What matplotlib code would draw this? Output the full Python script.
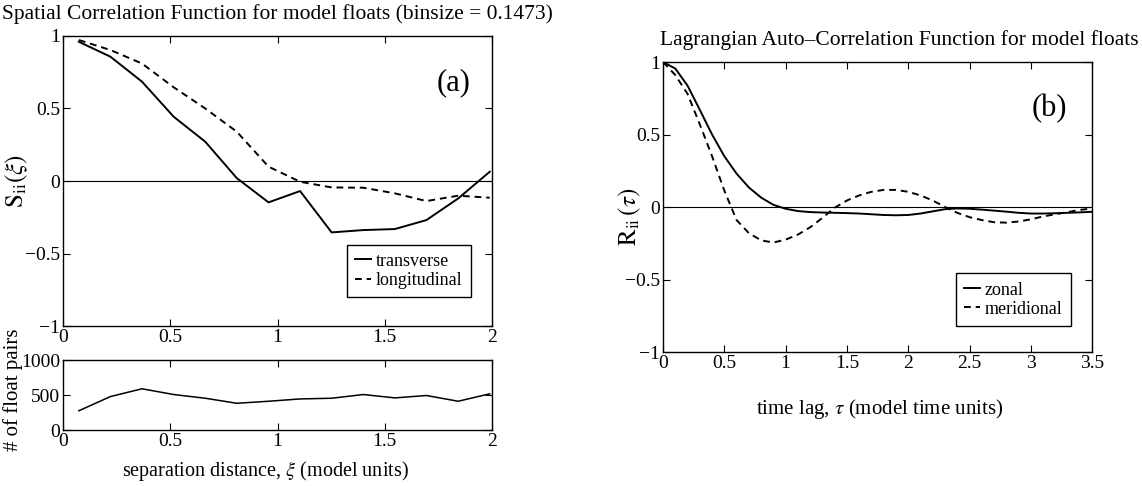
import matplotlib
matplotlib.use("Agg")
import matplotlib.pyplot as plt
from matplotlib.ticker import FuncFormatter

# fonts: Times-like look
plt.rcParams['font.family'] = ['Liberation Serif', 'DejaVu Serif']
plt.rcParams['mathtext.fontset'] = 'stix'
plt.rcParams['axes.linewidth'] = 1.0

# DATA
# panel (a): spatial correlation, bin centres (binsize = 0.1473)
sep = [0.0737, 0.221, 0.368, 0.516, 0.663, 0.810, 0.958,
       1.105, 1.252, 1.400, 1.547, 1.694, 1.842, 1.989]
transverse = [0.96, 0.857, 0.685, 0.443, 0.271, 0.02, -0.147,
              -0.069, -0.354, -0.338, -0.331, -0.269, -0.12, 0.064]
longitudinal = [0.972, 0.903, 0.81, 0.646, 0.50, 0.34, 0.099,
                -0.005, -0.044, -0.046, -0.085, -0.138, -0.101, -0.115]
n_pairs = [275, 478, 589, 507, 454, 382, 411,
           444, 454, 507, 459, 493, 411, 517]

# panel (b): Lagrangian auto-correlation
lag = [0.0, 0.1, 0.2, 0.3, 0.4, 0.5, 0.6, 0.7, 0.8, 0.9,
       1.0, 1.1, 1.2, 1.3, 1.4, 1.5, 1.6, 1.7, 1.8, 1.9,
       2.0, 2.1, 2.2, 2.3, 2.4, 2.5, 2.6, 2.7, 2.8, 2.9,
       3.0, 3.1, 3.2, 3.3, 3.4, 3.5]
zonal = [1.0, 0.955, 0.837, 0.67, 0.50, 0.35, 0.23, 0.135, 0.065, 0.015,
         -0.012, -0.028, -0.035, -0.038, -0.040, -0.042, -0.045, -0.05, -0.055, -0.057,
         -0.055, -0.045, -0.03, -0.015, -0.01, -0.012, -0.018, -0.025, -0.032, -0.04,
         -0.045, -0.045, -0.043, -0.04, -0.037, -0.033]
meridional = [1.0, 0.91, 0.78, 0.57, 0.35, 0.113, -0.09, -0.18, -0.23, -0.245,
              -0.225, -0.19, -0.14, -0.075, -0.005, 0.045, 0.08, 0.105, 0.118, 0.118,
              0.105, 0.08, 0.045, 0.0, -0.04, -0.07, -0.09, -0.105, -0.108, -0.10,
              -0.085, -0.065, -0.05, -0.035, -0.02, -0.01]

xticks_a = [0, 0.5, 1, 1.5, 2]
xticks_b = [0, 0.5, 1, 1.5, 2, 2.5, 3, 3.5]
yticks_corr = [-1, -0.5, 0, 0.5, 1]
yticks_pairs = [0, 500, 1000]

tick_fs = 14
label_fs = 15
math_fs = 18
title_fs = 15.5
dash = (0, (3.5, 2.5))


def matlab_fmt(v, pos):
    s = '%g' % v
    return s.replace('-', '\u2212')


def style_axes(ax):
    ax.tick_params(direction='in', top=True, right=True, length=5,
                   labelsize=tick_fs, pad=2)
    ax.xaxis.set_major_formatter(FuncFormatter(matlab_fmt))
    ax.yaxis.set_major_formatter(FuncFormatter(matlab_fmt))


def add_legend(ax, y0):
    ax.legend(loc='lower right', bbox_to_anchor=(0.95, y0), fontsize=13,
              handlelength=0.9, handletextpad=0.25, borderpad=0.45,
              borderaxespad=0, labelspacing=0.12, fancybox=False,
              edgecolor='black', framealpha=1)


fig = plt.figure(figsize=(11.42, 4.86), dpi=100)

# panel (a) top
ax1 = fig.add_axes([0.0552, 0.329, 0.3757, 0.597])
ax1.axhline(0, color='black', lw=0.8)
ax1.plot(sep, transverse, color='black', lw=1.4, label='transverse')
ax1.plot(sep, longitudinal, color='black', lw=1.4, linestyle=dash, label='longitudinal')
ax1.set_xlim(0, 2)
ax1.set_ylim(-1, 1)
ax1.set_xticks(xticks_a)
ax1.set_yticks(yticks_corr)
style_axes(ax1)
ax1.set_ylabel(r'$\mathrm{S}_{\mathrm{ii}}(\xi)$', fontsize=math_fs)
ax1.yaxis.set_label_coords(-0.077, 0.5)
ax1.set_title('Spatial Correlation Function for model floats (binsize = 0.1473)',
              fontsize=title_fs, pad=12)
ax1.text(0.91, 0.84, '(a)', transform=ax1.transAxes, fontsize=22,
         ha='center', va='center')
add_legend(ax1, 0.1)

# panel (a) bottom: number of pairs
ax2 = fig.add_axes([0.0552, 0.1152, 0.3757, 0.144])
ax2.plot(sep, n_pairs, color='black', lw=1.1)
ax2.set_xlim(0, 2)
ax2.set_ylim(0, 1000)
ax2.set_xticks(xticks_a)
ax2.set_yticks(yticks_pairs)
style_axes(ax2)
ax2.set_ylabel('# of float pairs', fontsize=label_fs)
ax2.yaxis.set_label_coords(-0.093, 0.57)
ax2.set_xlabel(r'separation distance, $\xi$ (model units)', fontsize=14.5)
ax2.xaxis.set_label_coords(0.471, -0.42)

# panel (b)
ax3 = fig.add_axes([0.5806, 0.2757, 0.3757, 0.5967])
ax3.axhline(0, color='black', lw=0.8)
ax3.plot(lag, zonal, color='black', lw=1.4, label='zonal')
ax3.plot(lag, meridional, color='black', lw=1.4, linestyle=dash, label='meridional')
ax3.set_xlim(0, 3.5)
ax3.set_ylim(-1, 1)
ax3.set_xticks(xticks_b)
ax3.set_yticks(yticks_corr)
style_axes(ax3)
ax3.set_ylabel(r'$\mathrm{R}_{\mathrm{ii}}\,(\tau)$', fontsize=math_fs)
ax3.yaxis.set_label_coords(-0.047, 0.466)
ax3.set_xlabel(r'time lag, $\tau$ (model time units)', fontsize=15)
ax3.xaxis.set_label_coords(0.505, -0.155)
ax3.set_title('Lagrangian Auto\u2013Correlation Function for model floats',
              fontsize=title_fs, pad=12, x=0.55)
ax3.text(0.90, 0.84, '(b)', transform=ax3.transAxes, fontsize=22,
         ha='center', va='center')
add_legend(ax3, 0.09)

fig.savefig('out.png', dpi=100)
